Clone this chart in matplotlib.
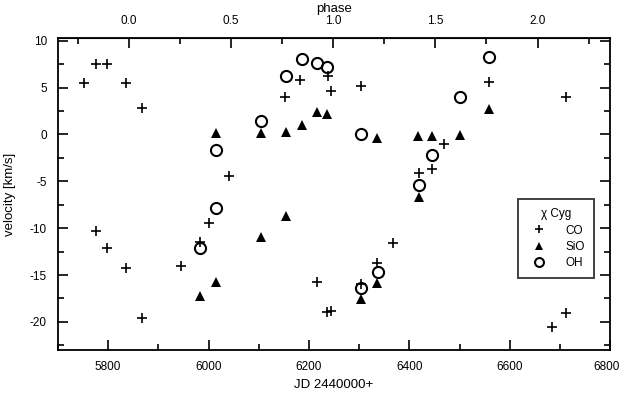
import numpy as np
import matplotlib.pyplot as plt
import matplotlib.transforms as mtransforms
from matplotlib.ticker import MultipleLocator, FormatStrFormatter

plt.rcParams['font.family'] = ['Liberation Sans', 'DejaVu Sans']
plt.rcParams['axes.unicode_minus'] = False

# CO velocities
co_jd = [5752, 5776, 5798, 5835, 5867, 5776, 5798, 5835, 5867, 5945, 5983, 6001,
         6041, 6152, 6182, 6216, 6238, 6236, 6244, 6244, 6304, 6304, 6336, 6367,
         6419, 6445, 6469, 6559, 6684, 6712, 6712]
co_v = [5.5, 7.5, 7.5, 5.5, 2.8, -10.3, -12.1, -14.3, -19.6, -14.0, -11.5, -9.5,
        -4.4, 4.0, 5.8, -15.8, 6.2, -19.0, 4.6, -18.8, 5.2, -16.0, -13.7, -11.6,
        -4.1, -3.7, -1.0, 5.6, -20.5, -19.1, 4.0]

# SiO velocities
sio_jd = [5983, 6015, 6015, 6105, 6105, 6154, 6154, 6186, 6216, 6236, 6304, 6336,
          6336, 6417, 6419, 6445, 6501, 6559]
sio_v = [-17.2, -15.8, 0.2, 0.2, -10.9, 0.3, -8.7, 1.0, 2.4, 2.2, -17.6, -0.4,
         -15.9, -0.2, -6.7, -0.2, -0.1, 2.7]

# OH velocities
oh_jd = [5983, 6015, 6015, 6105, 6154, 6186, 6216, 6236, 6304, 6304, 6338, 6419,
         6445, 6501, 6559]
oh_v = [-12.1, -7.9, -1.7, 1.4, 6.2, 8.1, 7.6, 7.2, 0.1, -16.4, -14.7, -5.4,
        -2.2, 4.0, 8.3]

# phase ephemeris
jd0 = 5841.5
period = 407.0

fig = plt.figure(figsize=(6.2, 3.95), dpi=100)
ax = fig.add_axes([0.0935, 0.114, 0.8905, 0.79])

ax.plot(co_jd, co_v, '+', color='black', ms=7, mew=1.2, label='CO')
ax.plot(sio_jd, sio_v, '^', color='black', ms=6.5, mew=0, label='SiO')
ax.plot(oh_jd, oh_v, 'o', mfc='none', mec='black', ms=8, mew=1.5, label='OH')

ax.set_xlim(5700, 6800)
ax.set_ylim(-23, 10.3)
ax.xaxis.set_major_locator(MultipleLocator(200))
ax.xaxis.set_minor_locator(MultipleLocator(100))
ax.yaxis.set_major_locator(MultipleLocator(5))
ax.yaxis.set_minor_locator(MultipleLocator(2.5))
ax.tick_params(which='both', direction='in', right=True, top=False,
               labelsize=8.5, width=1.2)
ax.tick_params(which='major', length=7)
ax.tick_params(which='minor', length=4)
ax.tick_params(axis='x', pad=8)
ax.tick_params(axis='y', pad=8)
for s in ax.spines.values():
    s.set_linewidth(1.3)

ax.set_xlabel('JD 2440000+', fontsize=9.5, labelpad=4)
ax.set_ylabel('velocity [km/s]', fontsize=9.5, labelpad=10)

# nudge the last JD label so it stays inside the figure
fig.canvas.draw()
last = [t for t in ax.get_xticklabels() if t.get_text() == '6800']
for t in last:
    t.set_transform(t.get_transform() +
                    mtransforms.ScaledTranslation(-4 / 100, 0, fig.dpi_scale_trans))

sec = ax.secondary_xaxis('top', functions=(lambda x: (x - jd0) / period,
                                           lambda p: p * period + jd0))
sec.set_xticks([0.0, 0.5, 1.0, 1.5, 2.0])
sec.set_xticks([-0.25, 0.25, 0.75, 1.25, 1.75, 2.25], minor=True)
sec.xaxis.set_major_formatter(FormatStrFormatter('%.1f'))
sec.tick_params(which='both', direction='in', labelsize=8.5, width=1.2, pad=8)
sec.tick_params(which='major', length=7)
sec.tick_params(which='minor', length=4)
sec.set_xlabel('phase', fontsize=9.5, labelpad=2)

leg = ax.legend(title='\u03c7 Cyg', loc='upper left', bbox_to_anchor=(0.833, 0.484),
                borderaxespad=0, fontsize=8.5, title_fontsize=8.5, frameon=True,
                fancybox=False, edgecolor='black', handletextpad=1.2,
                borderpad=0.8, labelspacing=0.35, markerscale=0.8)
leg.get_frame().set_linewidth(1.3)

fig.savefig('out.png', dpi=100)
